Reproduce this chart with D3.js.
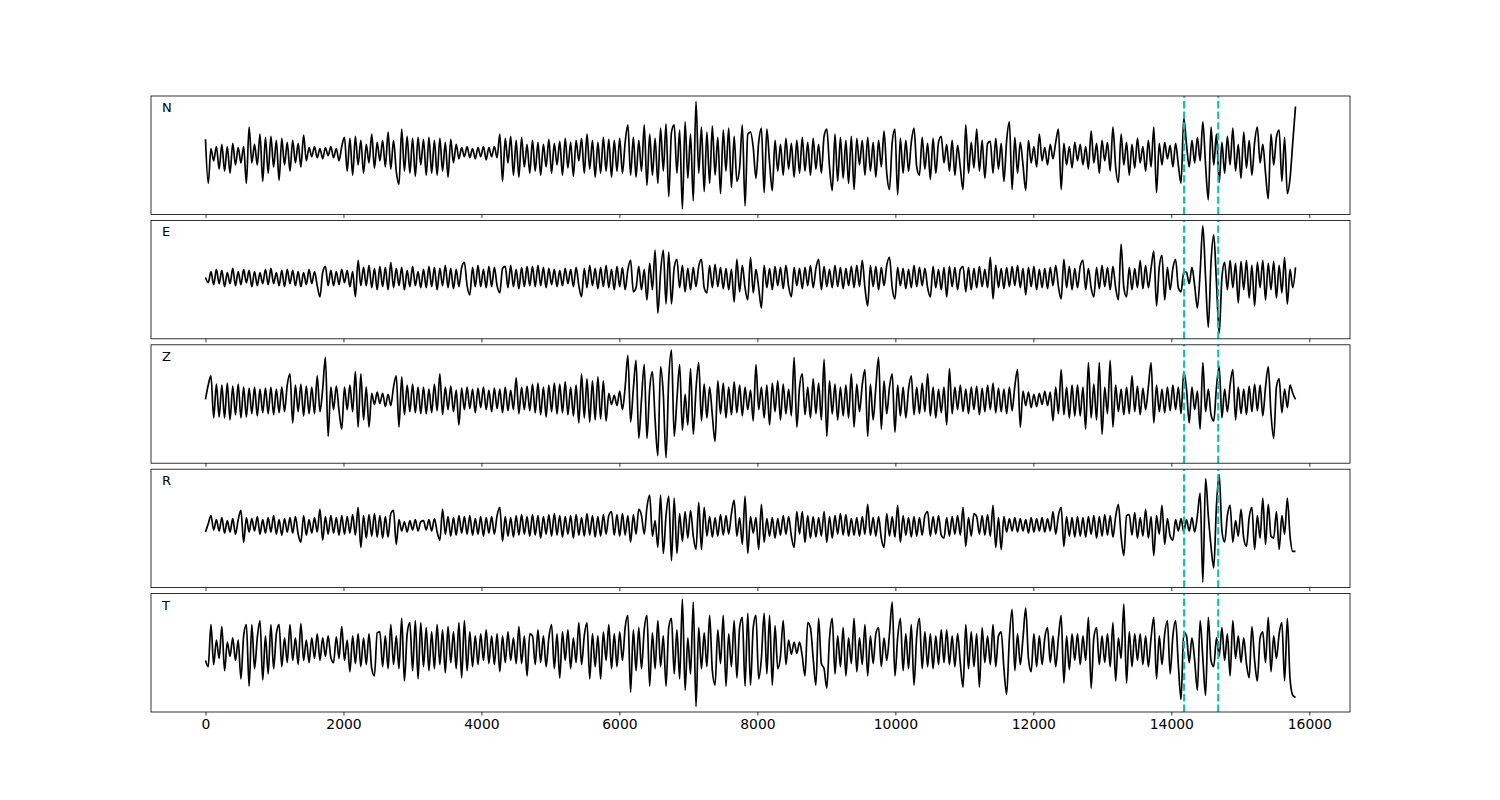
<!DOCTYPE html>
<html><head><meta charset="utf-8">
<script src="https://cdn.jsdelivr.net/npm/d3@7/dist/d3.min.js"></script>
<style>body{margin:0;background:#fff}text{font-family:"DejaVu Sans",sans-serif}</style>
</head><body>
<svg id="c" width="1500" height="800"></svg>
<script>
// ---------- data ----------
const channels = ["N", "E", "Z", "R", "T"];
const sampleStep = 39.5;            // samples between stored points (0 .. 15800)
const pickTimes = [14185, 14680];   // dashed markers
const xTicks = [0, 2000, 4000, 6000, 8000, 10000, 12000, 14000, 16000];

const traceN = [
13,-30,4,-8,6,-16,8,-18,6,-20,9,-12,5,-10,6,-30,25,-10,8,-12,18,-28,15,-20,16,-14,12,-27,14,-12,10,-18,12,-10,9,-14,17,-8,5,-4,
6,-5,4,-6,5,-3,6,-5,4,-8,6,15,-18,14,-22,16,-12,12,-20,8,-10,18,-15,10,-8,12,-14,20,-16,12,-18,-31,23,-18,16,-20,14,-23,15,-12,
13,-22,15,-20,12,-22,14,-18,10,-24,13,-10,8,-6,5,-4,6,-5,4,-6,5,-4,6,-7,5,-4,6,-5,18,-28,14,-10,16,-22,12,-24,15,-14,8,-20,
12,-18,10,-22,8,-14,13,-20,9,-12,11,-22,14,-15,10,-23,12,-8,14,-20,18,-16,12,-24,10,-20,15,-18,13,-24,12,-18,14,-20,10,27,-22,15,-24,12,
-18,27,-32,18,-22,14,-30,24,-18,28,-43,20,27,-20,22,-55,30,-25,18,-47,50,-20,25,-38,20,-30,26,-22,15,-40,22,-18,24,-34,16,-28,-15,27,-52,18,
20,5,-25,10,24,-39,23,-10,-37,12,-18,8,-22,14,-16,9,-24,12,-20,15,-18,10,-22,14,-16,8,-20,16,23,-14,-37,18,-28,15,-25,12,-30,16,-36,14,
-12,12,-22,15,-18,10,-24,12,-14,21,-20,-36,10,23,-41,14,-20,12,-18,10,24,-14,-22,15,-16,9,-26,14,-20,10,16,-10,8,-18,12,-22,7,-15,-36,27,
-20,10,-15,23,-18,12,-25,9,11,-20,14,-16,9,-28,12,30,-36,15,-20,10,-12,-37,12,-10,6,-14,18,-8,5,-12,8,-6,10,23,-36,9,-12,6,-15,10,
-8,8,-12,6,-16,21,-10,9,-20,12,-8,10,-18,25,-14,-29,18,-12,10,-22,8,-15,14,-10,6,-18,12,-14,25,-39,9,-12,10,-6,7,-14,9,-12,-30,34,
8,-14,12,-10,15,-8,30,-12,-46,25,-12,18,-29,10,-20,16,-12,24,-18,8,-25,20,-15,12,-22,10,25,-10,8,-20,-45,18,-12,15,22,-28,15,-40,-25,10,
45];

const traceE = [
0,-5,6,-7,8,-6,7,-9,5,-6,9,-8,6,-7,8,-5,7,-9,6,-8,5,-6,8,-7,9,-6,5,-8,7,-9,8,-6,7,-8,6,-9,5,-7,8,-6,
6,-8,-19,5,11,-8,7,-8,6,-7,8,-5,7,-9,6,-19,17,-8,10,-8,12,-10,9,-12,11,-9,10,-12,15,-10,9,-8,10,-12,7,-9,11,-8,6,-10,
8,-10,11,-9,10,-12,9,-8,12,-10,9,-11,8,-9,10,15,-8,-17,10,-9,12,-9,8,-10,11,-9,10,-8,-15,9,11,-10,12,-9,8,-11,10,-9,11,-8,
11,-9,12,-8,10,-10,9,-7,8,-9,7,-8,9,-6,8,-9,10,-8,-19,9,-10,12,-8,9,-11,10,-9,12,-10,8,-12,11,-9,10,-12,8,17,-14,-10,11,
-12,8,-22,14,-12,27,-35,5,27,-26,25,-26,10,18,-10,12,-14,9,-12,10,-9,11,18,-10,-15,12,-10,13,-9,10,-11,9,-12,8,-24,18,-14,12,-10,-22,
20,-15,8,-10,-30,12,-10,9,-12,11,-8,10,-11,12,-9,-19,10,-8,9,-11,10,-8,12,-10,9,18,-12,11,-9,8,-10,12,-9,10,-11,9,-8,11,-10,12,
-9,17,-10,-28,12,-9,11,-12,10,-8,12,20,-10,-21,10,-8,9,-11,8,-10,12,-9,10,-8,9,-10,-19,11,-10,8,-12,10,-19,11,-9,10,-12,8,11,-14,
10,-12,9,-10,11,-9,8,-10,20,-21,12,-10,9,-11,10,-9,11,-8,12,-10,9,-17,10,-9,11,-12,8,-10,9,-11,10,-8,12,-9,-21,18,-10,11,-12,9,
-10,11,17,-12,9,-10,-19,10,-11,12,-9,10,-12,11,-10,-22,33,-10,-19,10,-12,9,-10,17,-11,12,-10,9,26,-28,10,22,-22,10,-12,9,18,-10,-14,6,
5,-6,10,-8,-30,5,51,0,-49,15,42,-5,-55,0,15,-12,17,-10,14,-25,16,-12,17,-20,12,-28,15,-10,17,-22,14,-12,16,-20,12,-15,20,-26,8,-10,
10];

const traceZ = [
0,14,23,-18,15,-17,14,-18,16,-20,13,-15,15,-18,12,-17,11,-14,12,-16,10,-13,11,-14,12,-15,10,-13,12,-12,14,25,-23,14,-12,15,-16,13,-14,12,
-14,23,-12,10,41,-36,12,-10,13,-11,-29,12,-10,14,-12,27,-27,25,-20,12,-27,6,-5,7,-4,6,-7,5,-6,12,23,-27,22,-15,14,-12,15,-13,12,-14,
12,-14,10,-13,15,-11,25,-15,12,-10,13,-12,9,-25,11,-10,12,-9,10,-13,11,-8,12,-10,9,-12,11,-9,10,-13,12,-11,9,-10,21,-14,12,-10,13,-11,
15,-13,16,-15,12,-17,14,-12,16,-14,15,-13,17,-15,12,-16,14,-23,25,-18,20,-22,18,-20,22,-19,18,-21,6,-5,4,-6,8,-10,12,43,-22,10,38,-38,
0,34,-38,10,27,-20,-55,32,5,-57,20,48,-36,0,34,-30,5,-25,30,-34,10,36,-21,15,-18,12,-16,-41,18,-14,16,-18,12,-15,17,-13,14,-16,12,-10,
9,-21,34,-10,12,-18,14,-25,16,-12,18,-20,15,-14,10,-16,41,-27,12,25,-15,12,-18,20,-14,16,-20,39,-36,18,-14,15,-20,12,-16,14,-18,25,-27,15,
-12,14,29,-36,15,-20,12,41,-29,18,-14,12,25,-32,14,-16,12,-18,10,23,-15,12,-14,16,-12,25,-16,12,-18,10,-13,12,-25,30,-14,12,-10,14,-12,10,
-14,12,-10,13,-15,11,-12,14,-10,16,-13,11,-12,10,-14,12,-11,13,29,-27,8,-6,7,-8,5,-7,6,-5,8,-6,7,-21,12,-14,29,-15,12,-18,14,-16,
14,-16,12,-29,36,-18,15,-20,36,-34,12,-14,38,-27,14,-12,10,-15,12,-14,23,-12,13,-15,11,-10,12,36,-23,14,-12,10,-13,12,-11,14,-10,12,-14,27,
10,-23,12,-10,8,-29,36,-12,10,-15,-21,12,32,-18,10,-12,14,29,-20,12,-14,10,-15,13,-12,15,-11,14,-16,12,32,-14,-38,12,20,-13,10,-8,14,6,
0];

const traceR = [
-6,2,10,-4,6,-5,8,-7,5,-6,7,-8,6,15,-16,8,-6,7,-5,9,-8,6,-7,8,-6,10,-8,6,-9,7,-6,8,-7,9,-8,-16,10,-9,6,-7,
8,-6,16,-14,9,-8,10,-7,8,-9,10,-8,9,-7,11,-9,18,-21,10,-12,11,-10,12,-11,10,-12,9,-11,12,15,-18,6,-5,4,-6,5,-4,6,-5,4,
5,-4,6,-5,7,-6,-14,16,-8,9,-10,8,-9,10,-7,9,-8,10,-9,7,-8,9,-10,8,-7,9,-8,10,18,-15,9,-10,8,-11,10,-9,11,-8,9,-10,
11,-9,10,-12,9,-8,11,-10,12,-9,10,-11,9,-8,10,-12,11,-9,8,-10,12,-9,10,-11,9,-10,11,-8,10,14,-9,11,-10,12,-9,10,-16,11,-8,16,
10,-8,18,30,-10,5,-21,30,-27,10,29,-34,27,-27,12,-15,14,-12,15,-10,-23,23,-23,18,-10,9,-11,8,-10,11,-9,10,-8,12,25,-10,8,-18,29,-27,
9,-7,8,-23,21,-16,7,-10,8,-12,7,-9,10,-8,9,-10,-21,14,-8,14,-16,10,-12,9,-11,8,-10,14,-16,9,-12,10,-8,12,-9,11,-10,7,-9,8,
-10,9,-8,21,-9,8,-10,9,-12,-21,12,-10,9,-11,20,-16,10,-9,8,-11,9,-10,8,-9,10,14,-10,9,-8,10,-9,-12,8,-10,9,-8,10,-9,18,-20,
8,-10,12,9,-8,10,-9,11,-10,20,-21,8,-23,9,-6,7,-5,8,-6,7,-5,6,-7,8,-6,7,-5,8,-6,7,-5,14,-8,10,18,-20,9,-10,8,-11,
9,-10,8,-11,9,-8,10,-12,9,-10,11,-9,10,-11,9,21,-10,-29,10,11,-9,13,-12,8,-10,16,-12,9,-29,10,-8,20,-18,7,-10,-14,6,-5,7,-6,
6,-5,8,-6,10,32,-55,46,10,-20,-41,20,50,-5,-16,10,20,-16,5,-10,16,-12,-20,8,18,-23,10,-12,27,-18,21,-10,-12,14,-23,10,-8,27,-10,-25,
-25];

const traceT = [
-12,-18,23,-16,8,-10,21,-22,6,-8,10,-12,8,-30,12,23,-37,23,-20,10,27,-31,12,-25,23,-20,14,23,-18,10,-14,23,-12,10,-16,24,-12,8,-14,10,
-10,14,-12,10,-8,12,-9,-14,11,-10,21,-12,8,-23,12,-15,14,-18,10,-16,14,-20,-27,15,16,-18,12,-20,23,-16,12,-20,29,-32,14,25,-22,27,-30,25,
-18,20,-22,16,-20,23,-16,18,-24,21,-14,16,-20,25,-29,27,-22,16,-18,12,-16,14,-12,18,-15,12,-16,14,-23,12,-14,16,-12,10,-15,21,-15,12,-27,14,
12,-16,18,-14,12,-18,10,23,-20,14,-29,16,-12,18,-20,10,-14,25,-16,12,25,-30,14,-18,12,-30,16,-12,23,-20,14,-18,16,-12,20,32,-43,18,-22,20,
-20,18,32,-37,15,-20,27,-18,12,-37,20,29,-25,18,-30,48,-41,10,-25,45,-57,20,-20,15,-18,32,-22,-36,18,-15,32,-37,14,-18,27,-29,20,30,-37,34,
-36,20,32,-30,-10,34,-25,32,-36,22,-20,-8,27,-16,8,-6,6,-5,6,-8,-27,25,20,-10,-36,29,-15,-20,-39,10,29,-25,12,-18,20,-27,10,-15,29,-23,
10,-16,23,-27,12,-15,14,20,-18,10,-12,14,45,-27,10,29,-22,14,-20,23,-36,12,29,-20,16,-18,14,-20,12,-16,18,-14,18,-16,12,-18,14,-15,-38,23,
-20,16,-18,14,-38,20,-14,12,-16,23,-18,12,16,-20,-45,10,38,-22,14,-16,10,39,-10,-23,14,-18,12,-16,10,20,-14,12,-18,10,32,-34,12,-21,14,-12,
14,-16,12,-12,30,-39,10,20,-16,12,-14,14,-18,25,-32,10,-10,43,-34,16,-18,14,-12,14,-16,12,-18,10,30,-30,12,-16,14,27,-25,12,27,-16,-50,16,
12,-14,10,-12,-41,27,-10,-46,30,-12,-18,10,-8,20,-12,14,-27,27,-10,12,-14,10,-15,-29,21,-12,-32,10,16,-14,30,-23,12,-10,14,25,-32,29,-30,-46,
-48];

const traces = [traceN, traceE, traceZ, traceR, traceT];

// ---------- layout ----------
const svg = d3.select("#c");
const L = 151, R = 1350, T0 = 96, B0 = 712, gap = 6;
const ph = (B0 - T0 - 4 * gap) / 5;

const tMax = (traceN.length - 1) * sampleStep;
const xm = 0.05 * tMax;
const x = d3.scaleLinear().domain([-xm, tMax + xm]).range([L, R]);

channels.forEach((ch, k) => {
  const data = traces[k];
  const top = T0 + k * (ph + gap);
  const g = svg.append("g").attr("transform", `translate(0,${top})`);
  const [mn, mx] = d3.extent(data);
  const sp = mx - mn;
  const y = d3.scaleLinear().domain([mn - 0.05 * sp, mx + 0.05 * sp]).range([ph, 0]);

  const cid = "clip" + k;
  g.append("clipPath").attr("id", cid).append("rect")
    .attr("x", L).attr("y", 0).attr("width", R - L).attr("height", ph);

  const line = d3.line().curve(d3.curveMonotoneX)
    .x((d, i) => x(i * sampleStep)).y(d => y(d));
  g.append("path").datum(data).attr("d", line)
    .attr("clip-path", `url(#${cid})`)
    .attr("fill", "none").attr("stroke", "#000").attr("stroke-width", 1.7)
    .attr("stroke-linejoin", "round");

  pickTimes.forEach(p => {
    g.append("line").attr("x1", x(p)).attr("x2", x(p)).attr("y1", ph).attr("y2", 0)
      .attr("stroke", "#00bfbf").attr("stroke-width", 2).attr("stroke-dasharray", "7.4,3.2");
  });

  g.append("rect").attr("x", L).attr("y", 0).attr("width", R - L).attr("height", ph)
    .attr("fill", "none").attr("stroke", "#000").attr("stroke-width", 0.8);

  const ax = d3.axisBottom(x).tickValues(xTicks).tickSize(3.5).tickPadding(3.5)
    .tickFormat(k === channels.length - 1 ? d3.format("d") : () => "");
  const ag = g.append("g").attr("transform", `translate(0,${ph})`).call(ax);
  ag.select(".domain").remove();
  ag.selectAll(".tick line").attr("stroke", "#000").attr("stroke-width", 0.8);
  ag.selectAll(".tick text").attr("fill", "#000").style("font-size", "13.9px")
    .style("font-family", "'DejaVu Sans', sans-serif");

  g.append("text").attr("x", L + 11).attr("y", 16).text(ch)
    .style("font-size", "13px").attr("fill", "#000");
});
</script>
</body></html>
